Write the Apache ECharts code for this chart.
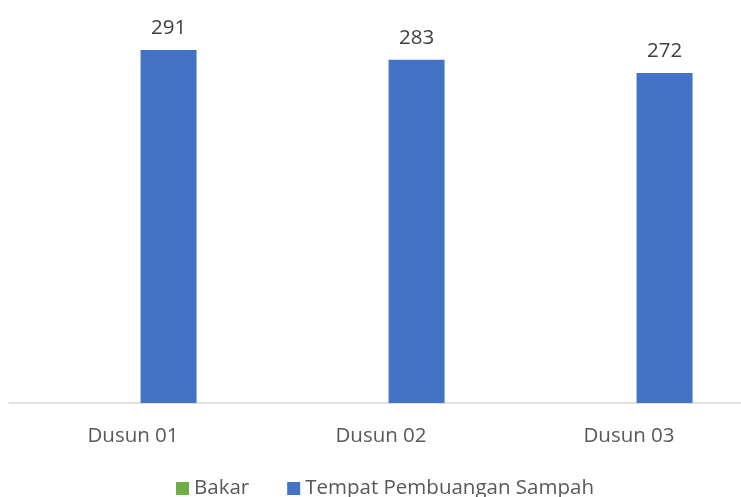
<!DOCTYPE html>
<html>
<head>
<meta charset="utf-8">
<script src="https://cdn.jsdelivr.net/npm/echarts@6/dist/echarts.min.js"></script>
<style>
  html, body { margin: 0; padding: 0; background: #fff; }
  #main { width: 741px; height: 497px; }
</style>
</head>
<body>
<div id="main"></div>
<script>
var categories = ['Dusun 01', 'Dusun 02', 'Dusun 03'];
var bakar = [0, 0, 0];
var tempatSampah = [291, 283, 272];

var chart = echarts.init(document.getElementById('main'));
var font = '"Open Sans", "Noto Sans", sans-serif';

var option = {
    animation: false,
    textStyle: { fontFamily: font },
    grid: { left: 9, width: 744, top: 39, bottom: 94, containLabel: false, outerBoundsMode: 'none' },
    legend: {
        data: ['Bakar', 'Tempat Pembuangan Sampah'],
        bottom: -2,
        left: 176,
        padding: 0,
        itemWidth: 13,
        itemHeight: 13,
        itemGap: 38,
        icon: 'rect',
        textStyle: { color: '#595959', fontSize: 20.5, fontFamily: font }
    },
    xAxis: {
        type: 'category',
        data: categories,
        axisLine: { lineStyle: { color: '#d9d9d9', width: 1.5 } },
        axisTick: { show: false },
        axisLabel: { color: '#595959', fontSize: 20.5, margin: 23, fontFamily: font }
    },
    yAxis: {
        type: 'value',
        min: 0,
        max: 300,
        show: false
    },
    series: [
        {
            name: 'Bakar',
            type: 'bar',
            data: bakar,
            barWidth: 56,
            barGap: '27%',
            itemStyle: { color: '#70AD47' }
        },
        {
            name: 'Tempat Pembuangan Sampah',
            type: 'bar',
            data: tempatSampah,
            barWidth: 56,
            barGap: '27%',
            itemStyle: { color: '#4472C4' },
            label: {
                show: true,
                position: 'top',
                distance: 11,
                color: '#404040',
                fontSize: 20.5,
                fontFamily: font
            }
        }
    ]
};

chart.setOption(option);
</script>
</body>
</html>
